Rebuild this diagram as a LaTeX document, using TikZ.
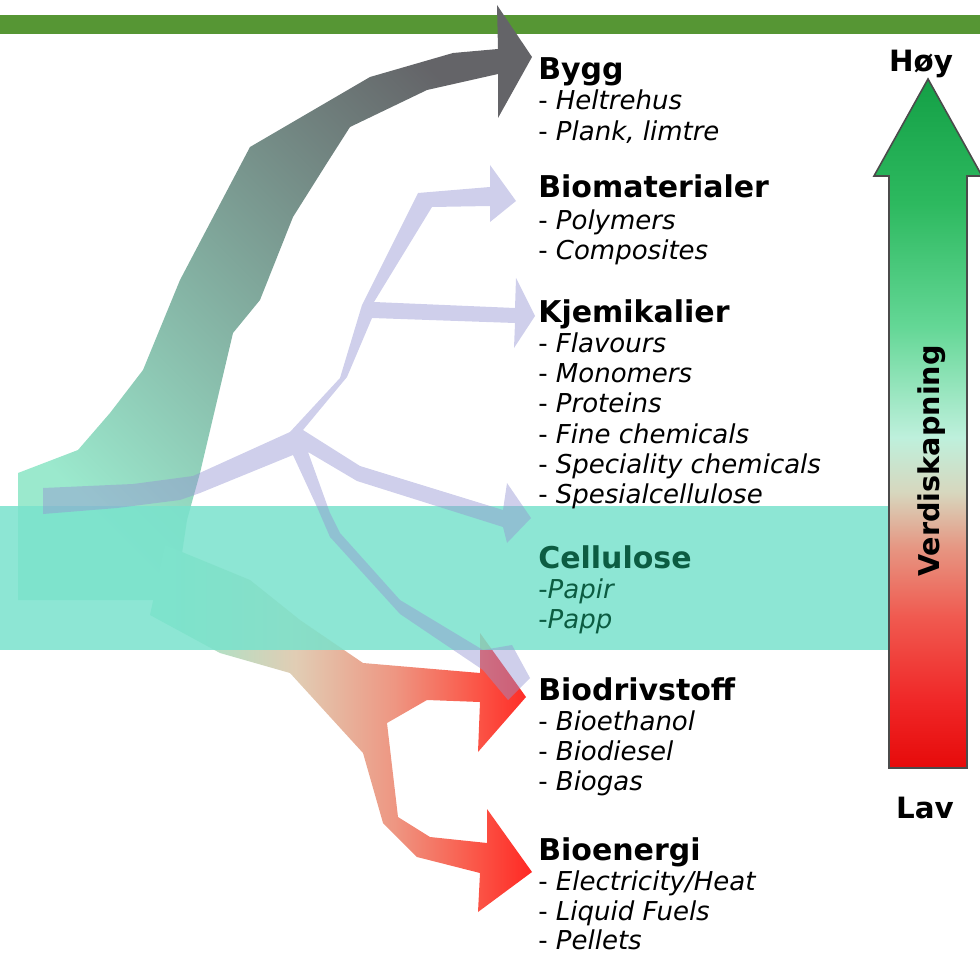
\documentclass[tikz,border=0pt]{standalone}
\usepackage{fontspec}
\setmainfont{DejaVu Sans}

\definecolor{barGreen}{RGB}{86,150,52}
\definecolor{bandTeal}{RGB}{121,226,204}
\definecolor{lilac}{RGB}{148,148,210}
\definecolor{celluloseGreen}{RGB}{12,92,66}
\definecolor{rimGray}{RGB}{75,75,75}
\definecolor{flowMint}{RGB}{155,233,205}
\definecolor{flowMid}{RGB}{124,178,152}
\definecolor{flowGray}{RGB}{100,100,104}
\definecolor{redA}{RGB}{225,205,180}
\definecolor{redB}{RGB}{238,150,130}
\definecolor{redC}{RGB}{250,90,75}
\definecolor{redD}{RGB}{255,40,35}
\definecolor{valA}{RGB}{230,10,10}
\definecolor{valB}{RGB}{240,40,40}
\definecolor{valC}{RGB}{240,90,80}
\definecolor{valD}{RGB}{230,150,130}
\definecolor{valE}{RGB}{215,215,190}
\definecolor{valF}{RGB}{190,240,220}
\definecolor{valG}{RGB}{100,215,150}
\definecolor{valH}{RGB}{45,185,95}
\definecolor{valI}{RGB}{20,160,70}

\pgfdeclarehorizontalshading{redflow}{100bp}{color(0bp)=(flowMint); color(28bp)=(flowMint); color(44bp)=(redA); color(57bp)=(redB); color(67bp)=(redC); color(75bp)=(redD); color(100bp)=(redD)}
\pgfdeclareverticalshading{valueflow}{100bp}{color(0bp)=(valA); color(25bp)=(valA); color(30bp)=(valB); color(36bp)=(valC); color(41bp)=(valD); color(45bp)=(valE); color(49bp)=(valF); color(57bp)=(valG); color(66bp)=(valH); color(75bp)=(valI); color(100bp)=(valI)}

\begin{document}
\begin{tikzpicture}[x=0.75pt,y=0.75pt,yscale=-1,xscale=1,
    head/.style={anchor=base west,inner sep=0pt,font=\fontsize{22.5}{27}\selectfont\bfseries},
    item/.style={anchor=base west,inner sep=0pt,font=\fontsize{19.5}{23}\selectfont},
    scale label/.style={anchor=base,inner sep=0pt,font=\fontsize{22}{26}\selectfont\bfseries}]
    \useasboundingbox (0,0) rectangle (980,955);

    %Shape: Top bar
    \fill [barGreen] (0,15) rectangle (980,34) ;
    %Shape: Flow to Bygg
    \shade [top color=flowGray, middle color=flowMid, bottom color=flowMint, shading angle=-45] (18,600) -- (18,473) -- (78,450) -- (110,413) -- (143,370) -- (180,280) -- (250,147) -- (370,77) -- (453,53) -- (498,49) -- (497,5) -- (532,57) -- (498,118) -- (498,74) -- (427,90) -- (350,127) -- (327,163) -- (293,217) -- (260,300) -- (233,333) -- (200,473) -- (187,520) -- (175,600) -- cycle ;
    %Shape: Flow to Biodrivstoff and Bioenergi
    \shade [shading=redflow] (165,545) -- (250,580) -- (300,620) -- (363,663) -- (480,673) -- (480,633) -- (526,697) -- (478,752) -- (480,702) -- (427,700) -- (387,723) -- (398,817) -- (430,837) -- (487,843) -- (487,809) -- (532,872) -- (478,912) -- (480,873) -- (417,857) -- (383,823) -- (363,753) -- (290,673) -- (220,653) -- (150,615) -- cycle ;
    %Shape: Cellulose band
    \fill [bandTeal, fill opacity=0.85] (0,506) rectangle (889,650) ;
    %Shape: Branching flow
    \fill [lilac, fill opacity=0.45] (43,488) -- (133,484) -- (193,476) -- (290,432) -- (340,378) -- (362,305) -- (418,193) -- (490,187) -- (490,165) -- (516,201) -- (490,222) -- (490,206) -- (432,207) -- (374,302) -- (515,308) -- (516,278) -- (535,316) -- (514,348) -- (515,323) -- (372,318) -- (347,377) -- (303,430) -- (360,466) -- (503,510) -- (507,483) -- (531,518) -- (507,543) -- (503,527) -- (357,481) -- (308,452) -- (330,513) -- (340,533) -- (400,600) -- (483,650) -- (512,645) -- (530,678) -- (508,700) -- (483,670) -- (400,614) -- (330,537) -- (317,507) -- (293,455) -- (200,493) -- (180,500) -- (117,508) -- (43,514) -- cycle ;
    %Up Arrow: Verdiskapning
    \shadedraw [shading=valueflow, draw=rimGray, line width=1.2] (889,768) -- (889,176) -- (874,176) -- (928,79) -- (982,176) -- (967,176) -- (967,768) -- cycle ;

    % Text Node
    \draw (921,72) node [scale label] (hoy) {Høy};
    % Text Node
    \draw (925,818) node [scale label] (lav) {Lav};
    % Text Node
    \draw (939,461) node [rotate=90, anchor=base, inner sep=0pt, font=\fontsize{21.5}{26}\selectfont\bfseries] (verdi) {Verdiskapning};

    % Text Node
    \draw (538,80) node [head] (bygg) {Bygg};
    \draw (538,110) node [item] (bygg1) {- \textit{Heltrehus}};
    \draw (538,141) node [item] (bygg2) {- \textit{Plank, limtre}};
    % Text Node
    \draw (538,198) node [head] (biomat) {Biomaterialer};
    \draw (538,230) node [item] (biomat1) {- \textit{Polymers}};
    \draw (538,260) node [item] (biomat2) {- \textit{Composites}};
    % Text Node
    \draw (538,322) node [head] (kjemi) {Kjemikalier};
    \draw (538,352) node [item] (kjemi1) {- \textit{Flavours}};
    \draw (538,382) node [item] (kjemi2) {- \textit{Monomers}};
    \draw (538,412) node [item] (kjemi3) {- \textit{Proteins}};
    \draw (538,443) node [item] (kjemi4) {- \textit{Fine chemicals}};
    \draw (538,473) node [item] (kjemi5) {- \textit{Speciality chemicals}};
    \draw (538,503) node [item] (kjemi6) {- \textit{Spesialcellulose}};
    % Text Node
    \draw (538,568) node [head, text=celluloseGreen] (cellulose) {Cellulose};
    \draw (538,598) node [item, text=celluloseGreen] (cellulose1) {-\textit{Papir}};
    \draw (538,628) node [item, text=celluloseGreen] (cellulose2) {-\textit{Papp}};
    % Text Node
    \draw (538,700) node [head] (drivstoff) {Biodrivstoff};
    \draw (538,730) node [item] (drivstoff1) {- \textit{Bioethanol}};
    \draw (538,760) node [item] (drivstoff2) {- \textit{Biodiesel}};
    \draw (538,790) node [item] (drivstoff3) {- \textit{Biogas}};
    % Text Node
    \draw (538,860) node [head] (energi) {Bioenergi};
    \draw (538,890) node [item] (energi1) {- \textit{Electricity/Heat}};
    \draw (538,920) node [item] (energi2) {- \textit{Liquid Fuels}};
    \draw (538,949) node [item] (energi3) {- \textit{Pellets}};
\end{tikzpicture}
\end{document}
